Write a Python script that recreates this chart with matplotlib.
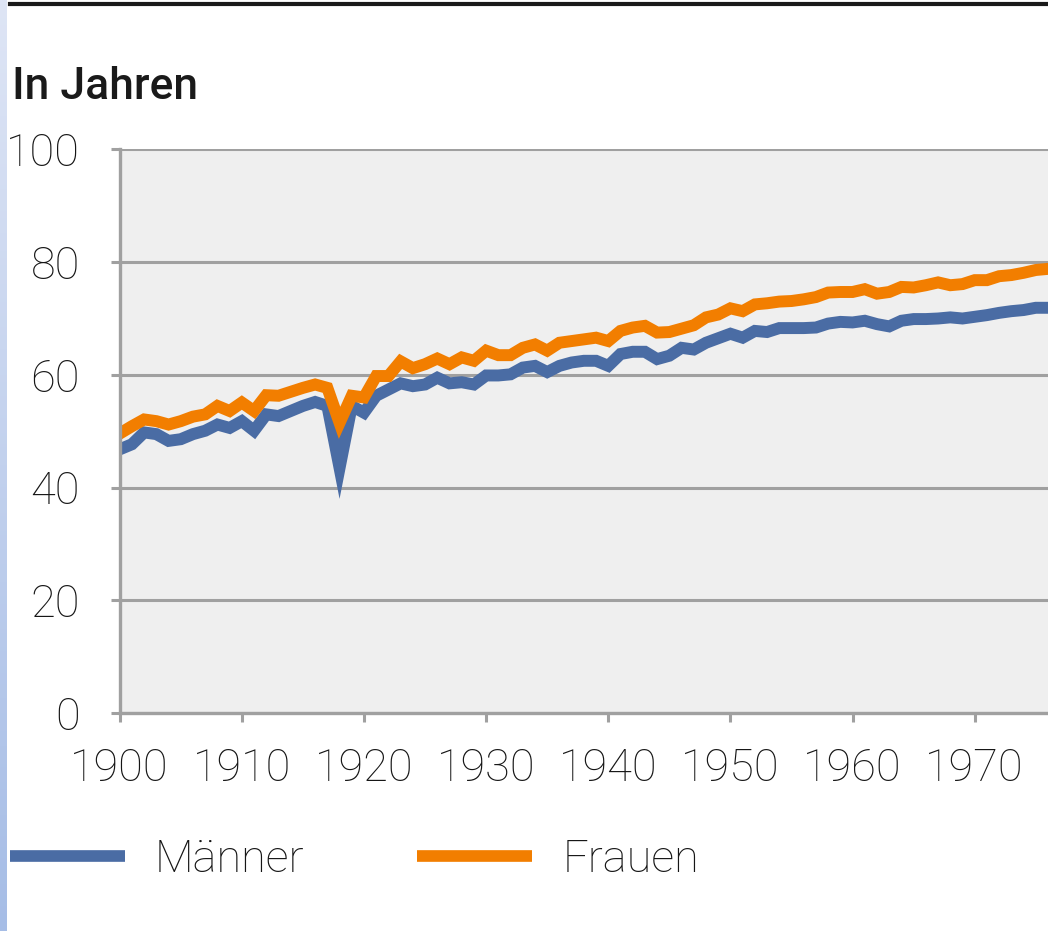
import matplotlib
matplotlib.use("Agg")
import matplotlib.pyplot as plt
import numpy as np
from matplotlib.lines import Line2D

years = list(range(1900, 1977))
maenner = [46.8, 47.7, 49.8, 49.5, 48.3, 48.6, 49.5, 50.1, 51.2, 50.6,
           51.8, 50.1, 53.0, 52.7, 53.6, 54.5, 55.2, 54.5, 43.5, 54.5,
           53.3, 56.3, 57.4, 58.5, 58.0, 58.3, 59.5, 58.5, 58.7, 58.3,
           59.9, 59.9, 60.1, 61.3, 61.6, 60.5, 61.6, 62.2, 62.5, 62.5,
           61.6, 63.7, 64.1, 64.1, 62.8, 63.4, 64.8, 64.5, 65.7, 66.5,
           67.3, 66.6, 67.8, 67.6, 68.3, 68.3, 68.3, 68.4, 69.1, 69.4,
           69.3, 69.6, 69.0, 68.6, 69.6, 69.9, 69.9, 70.0, 70.2, 70.0,
           70.3, 70.6, 71.0, 71.3, 71.5, 71.9, 71.9]
frauen = [49.6, 50.9, 52.1, 51.8, 51.2, 51.8, 52.6, 53.0, 54.5, 53.6,
          55.1, 53.6, 56.4, 56.3, 57.0, 57.7, 58.3, 57.7, 51.5, 56.3,
          56.0, 59.8, 59.8, 62.4, 61.2, 61.9, 62.9, 61.9, 63.1, 62.5,
          64.3, 63.5, 63.5, 64.8, 65.4, 64.3, 65.7, 66.0, 66.3, 66.6,
          66.0, 67.8, 68.4, 68.7, 67.5, 67.6, 68.2, 68.8, 70.2, 70.7,
          71.8, 71.3, 72.5, 72.7, 73.0, 73.1, 73.4, 73.8, 74.6, 74.7,
          74.7, 75.2, 74.4, 74.7, 75.6, 75.5, 75.9, 76.4, 75.9, 76.1,
          76.8, 76.8, 77.5, 77.7, 78.1, 78.6, 78.8]
x_ticks = [1900, 1910, 1920, 1930, 1940, 1950, 1960, 1970]
y_ticks = [0, 20, 40, 60, 80, 100]
labels = ["Männer", "Frauen"]
title = "In Jahren"

W, H = 1048, 931
fig = plt.figure(figsize=(W / 100, H / 100), dpi=100)
fig.patch.set_facecolor("white")

# left gradient strip
sax = fig.add_axes([0, 0, 7 / W, 1])
grad = np.linspace(0, 1, 256).reshape(-1, 1)
c_top = np.array([222, 229, 245]) / 255
c_bot = np.array([166, 189, 230]) / 255
img = c_top[None, None, :] * (1 - grad[:, :, None]) + c_bot[None, None, :] * grad[:, :, None]
sax.imshow(img, aspect="auto", extent=[0, 1, 0, 1])
sax.set_axis_off()

# top black rule
fig.add_artist(Line2D([10 / W, 1], [1 - 4 / H, 1 - 4 / H], color="#1a1a1a", lw=3.0,
                      transform=fig.transFigure))

left = 119.7 / W
bottom = (H - 713.3) / H
height = (713.3 - 149.3) / H
ax = fig.add_axes([left, bottom, 1 - left, height])
ax.set_facecolor("#efefef")

gray = "#a0a0a0"
lw_line = 8.6
ax.plot(years, maenner, color="#4a6ca4", lw=lw_line, solid_joinstyle="miter",
        label=labels[0], zorder=3)
ax.plot(years, frauen, color="#f27e00", lw=lw_line, solid_joinstyle="miter",
        label=labels[1], zorder=4)

ax.set_xlim(1900, 1976)
ax.set_ylim(0, 100)
ax.set_xticks(x_ticks)
ax.set_yticks(y_ticks)
ax.grid(axis="y", color=gray, lw=2.2, zorder=1)
ax.set_axisbelow(True)
for s in ["top", "right"]:
    ax.spines[s].set_visible(False)
for s in ["left", "bottom"]:
    ax.spines[s].set_color(gray)
    ax.spines[s].set_linewidth(2.4)
    ax.spines[s].set_zorder(5)

tick_font = dict(family="Roboto", weight="light", size=32.5, color="#161616")
ax.set_xticklabels([str(t) for t in x_ticks], fontdict=tick_font)
ax.set_yticklabels([str(t) for t in y_ticks], fontdict=tick_font)
ax.tick_params(axis="both", direction="out", length=6.5, width=2.2, color=gray)
ax.tick_params(axis="y", pad=22)
ax.tick_params(axis="x", pad=18)

fig.text(12 / W, 1 - 99 / H, title, family="Roboto", weight="medium", size=32,
         color="#1a1a1a", va="baseline", ha="left")

h1 = Line2D([], [], color="#4a6ca4", lw=8.4, solid_capstyle="butt")
h2 = Line2D([], [], color="#f27e00", lw=8.4, solid_capstyle="butt")
leg = fig.legend([h1, h2], labels, loc="center left",
                 bbox_to_anchor=(10 / W, 1 - 860 / H), ncol=2, frameon=False,
                 prop=dict(family="Roboto", weight="light", size=32.5),
                 handlelength=2.55, handletextpad=0.66, columnspacing=2.5,
                 borderpad=0, borderaxespad=0)
for t in leg.get_texts():
    t.set_color("#161616")

fig.savefig("out.png", dpi=100, facecolor="white")
